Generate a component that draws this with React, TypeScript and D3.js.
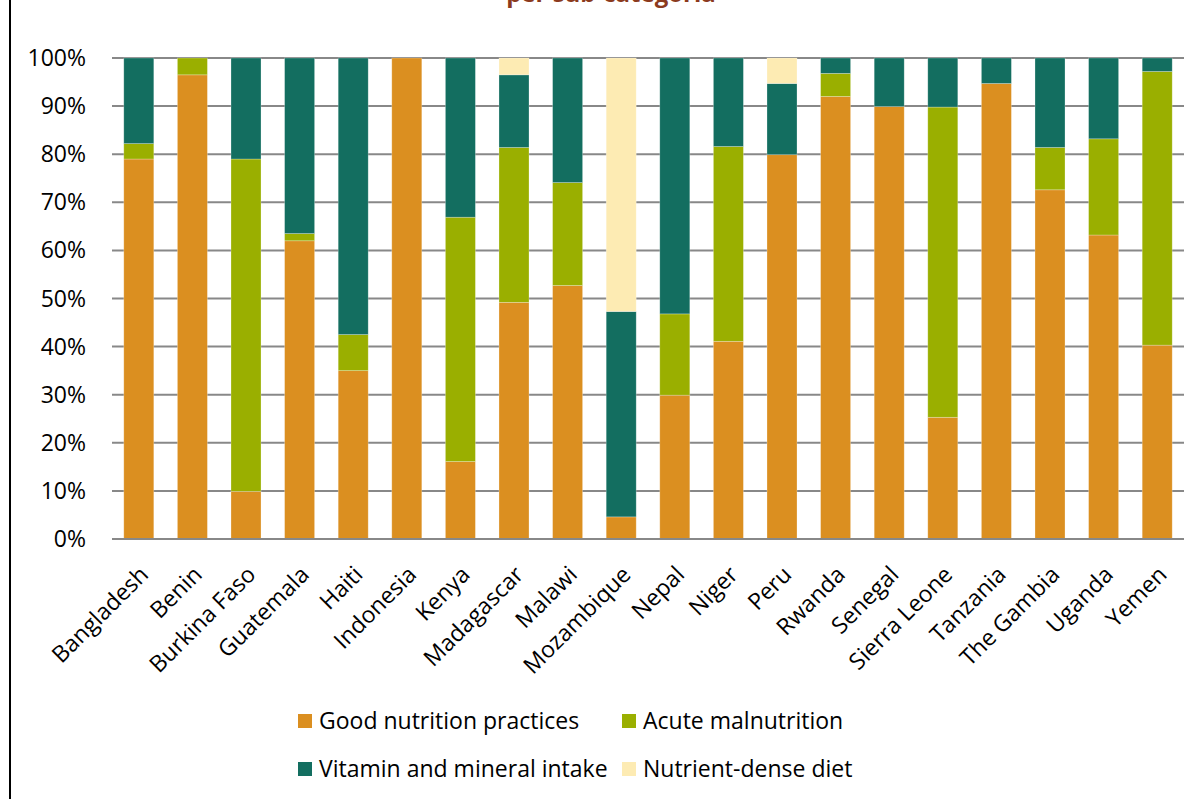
import React from "react";
import * as d3 from "d3";

const countries = [
  "Bangladesh", "Benin", "Burkina Faso", "Guatemala", "Haiti", "Indonesia", "Kenya",
  "Madagascar", "Malawi", "Mozambique", "Nepal", "Niger", "Peru", "Rwanda", "Senegal",
  "Sierra Leone", "Tanzania", "The Gambia", "Uganda", "Yemen",
];

const goodNutrition = [79, 96.5, 9.9, 62, 35, 100, 16.1, 49.2, 52.7, 4.6, 29.9, 41.1, 79.9, 92, 89.9, 25.3, 94.7, 72.6, 63.2, 40.3];
const acuteMalnutrition = [3.2, 3.5, 69.1, 1.5, 7.5, 0, 50.8, 32.2, 21.4, 0, 16.9, 40.5, 0, 4.8, 0, 64.5, 0, 8.8, 20, 56.9];
const vitaminMineral = [17.8, 0, 21, 36.5, 57.5, 0, 33.1, 15.1, 25.9, 42.7, 53.2, 18.4, 14.8, 3.2, 10.1, 10.2, 5.3, 18.6, 16.8, 2.8];
const nutrientDense = [0, 0, 0, 0, 0, 0, 0, 3.5, 0, 52.7, 0, 0, 5.3, 0, 0, 0, 0, 0, 0, 0];

const seriesNames = ["Good nutrition practices", "Acute malnutrition", "Vitamin and mineral intake", "Nutrient-dense diet"];
const seriesColors = ["#DB8F20", "#9AAF00", "#136E60", "#FDEBB3"];
const yTicks = [0, 10, 20, 30, 40, 50, 60, 70, 80, 90, 100];

const FONT = "'Open Sans', 'Noto Sans', sans-serif";
const FS = 23;

export default function App() {
  const W = 1200, H = 799;
  const x = d3.scaleBand<string>().domain(countries).range([112, 1184]).paddingInner(0.44).paddingOuter(0.22);
  const y = d3.scaleLinear().domain([0, 100]).range([539, 58]);

  const rows = countries.map((c, i) => ({
    country: c,
    s0: goodNutrition[i],
    s1: acuteMalnutrition[i],
    s2: vitaminMineral[i],
    s3: nutrientDense[i],
  }));
  const stack = d3.stack<any>().keys(["s0", "s1", "s2", "s3"])(rows);

  const legendItems = [
    { name: seriesNames[0], color: seriesColors[0], x: 298, y: 721 },
    { name: seriesNames[1], color: seriesColors[1], x: 622, y: 721 },
    { name: seriesNames[2], color: seriesColors[2], x: 298, y: 769 },
    { name: seriesNames[3], color: seriesColors[3], x: 622, y: 769 },
  ];

  return (
    <svg width={W} height={H} style={{ position: "absolute", left: 0, top: 0, background: "#fff" }} fontFamily={FONT}>
      <rect x={0} y={0} width={W} height={H} fill="#fff" />
      <line x1={10} x2={10} y1={0} y2={H} stroke="#000" strokeWidth={2} />
      <text x={611} y={2} textAnchor="middle" fontSize={24} fontWeight="bold" fill="#8B3A1E">
        per sub-categoria
      </text>
      {yTicks.map((t) => (
        <g key={t}>
          <line x1={112} x2={1184} y1={y(t)} y2={y(t)} stroke="#888" strokeWidth={2} />
          <text x={86} y={y(t)} dy="0.35em" textAnchor="end" fontSize={FS} fill="#000">
            {t}%
          </text>
        </g>
      ))}
      {stack.map((layer, li) => (
        <g key={li}>
          {layer.map((d: any, i: number) =>
            d[1] - d[0] > 0 ? (
              <rect
                key={i}
                x={x(countries[i])}
                width={x.bandwidth()}
                y={y(d[1])}
                height={y(d[0]) - y(d[1])}
                fill={seriesColors[li]}
                stroke="#ffffff"
                strokeOpacity={0.35}
                strokeWidth={0.75}
              />
            ) : null
          )}
        </g>
      ))}
      <line x1={112} x2={1184} y1={y(0)} y2={y(0)} stroke="#888" strokeWidth={2} />
      {countries.map((c) => {
        const cx = (x(c) as number) + x.bandwidth() / 2 + 11;
        return (
          <text key={c} transform={`translate(${cx},576) rotate(-45)`} textAnchor="end" fontSize={FS} fill="#000">
            {c}
          </text>
        );
      })}
      {legendItems.map((l) => (
        <g key={l.name}>
          <rect x={l.x} y={l.y - 7} width={14} height={14} fill={l.color} />
          <text x={l.x + 21} y={l.y} dy="0.35em" fontSize={FS} fill="#000">
            {l.name}
          </text>
        </g>
      ))}
    </svg>
  );
}
